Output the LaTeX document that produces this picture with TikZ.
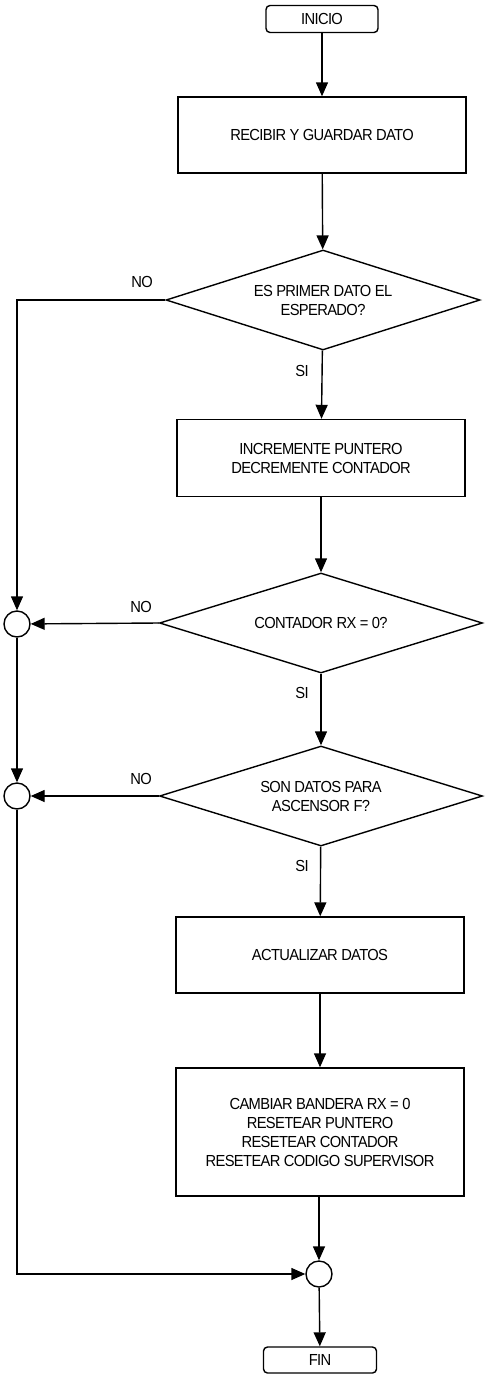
\documentclass[tikz,border=0pt]{standalone}
\usepackage{fontspec}
\setmainfont{Liberation Sans}[FakeStretch=0.92,LetterSpace=-4]
\usetikzlibrary{shapes.geometric,arrows.meta}
\tikzset{
  terminal/.style={draw,rounded corners=4pt,minimum width=112pt,minimum height=27pt,inner sep=0pt},
  proceso/.style={draw,minimum width=288pt,align=center,inner sep=0pt},
  decision/.style={draw,diamond,aspect=3.2,minimum height=100pt,align=center,inner sep=0pt},
  union/.style={draw,circle,minimum size=26pt,inner sep=0pt},
  etiqueta/.style={inner sep=0pt},
  flecha/.style={-{Triangle[length=14pt,width=12pt]}}
}
\begin{document}
\begin{tikzpicture}[x=1pt,y=-1pt,line width=1.4pt,font=\fontsize{16}{19}\selectfont]
      \useasboundingbox (0,0) rectangle (485,1376);
      \node[terminal] (inicio) at (322,19) {INICIO};
      \node[proceso,minimum height=76pt] (recibir) at (322,135) {RECIBIR Y GUARDAR DATO};
      \node[decision,minimum width=314pt] (primero) at (323,300) {ES PRIMER DATO EL\\ESPERADO?};
      \node[proceso,minimum height=77pt] (incrementa) at (321,458) {INCREMENTE PUNTERO\\DECREMENTE CONTADOR};
      \node[decision,minimum width=323pt] (contador) at (321,623) {CONTADOR RX = 0?};
      \node[decision,minimum width=323pt] (ascensor) at (321,796) {SON DATOS PARA\\ASCENSOR F?};
      \node[proceso,minimum height=76pt] (actualizar) at (320,955) {ACTUALIZAR DATOS};
      \node[proceso,minimum height=128pt] (cambiar) at (320,1132) {CAMBIAR BANDERA RX = 0\\RESETEAR PUNTERO\\RESETEAR CONTADOR\\RESETEAR CODIGO SUPERVISOR};
      \node[union] (unionA) at (17,624) {};
      \node[union] (unionB) at (17,796) {};
      \node[union] (unionC) at (319,1274) {};
      \node[terminal,minimum width=113pt,minimum height=26pt] (fin) at (320,1360) {FIN};
      \node[etiqueta] (no1) at (142,282) {NO};
      \node[etiqueta] (si1) at (302,371) {SI};
      \node[etiqueta] (no2) at (141,607) {NO};
      \node[etiqueta] (si2) at (302,693) {SI};
      \node[etiqueta] (no3) at (141,779) {NO};
      \node[etiqueta] (si3) at (302,866) {SI};
      \begin{scope}[flecha]
        \draw (inicio) to (recibir);
        \draw (recibir) to (primero);
        \draw (primero) to (incrementa);
        \draw (incrementa) to (contador);
        \draw (primero.west) -| (unionA);
        \draw (contador.west) to (unionA);
        \draw (contador) to (ascensor);
        \draw (unionA) to (unionB);
        \draw (ascensor.west) to (unionB);
        \draw (ascensor) to (actualizar);
        \draw (actualizar) to (cambiar);
        \draw (cambiar.south -| unionC) to (unionC);
        \draw (unionB) |- (unionC);
        \draw (unionC) to (fin);
      \end{scope}
    \end{tikzpicture}
\end{document}
